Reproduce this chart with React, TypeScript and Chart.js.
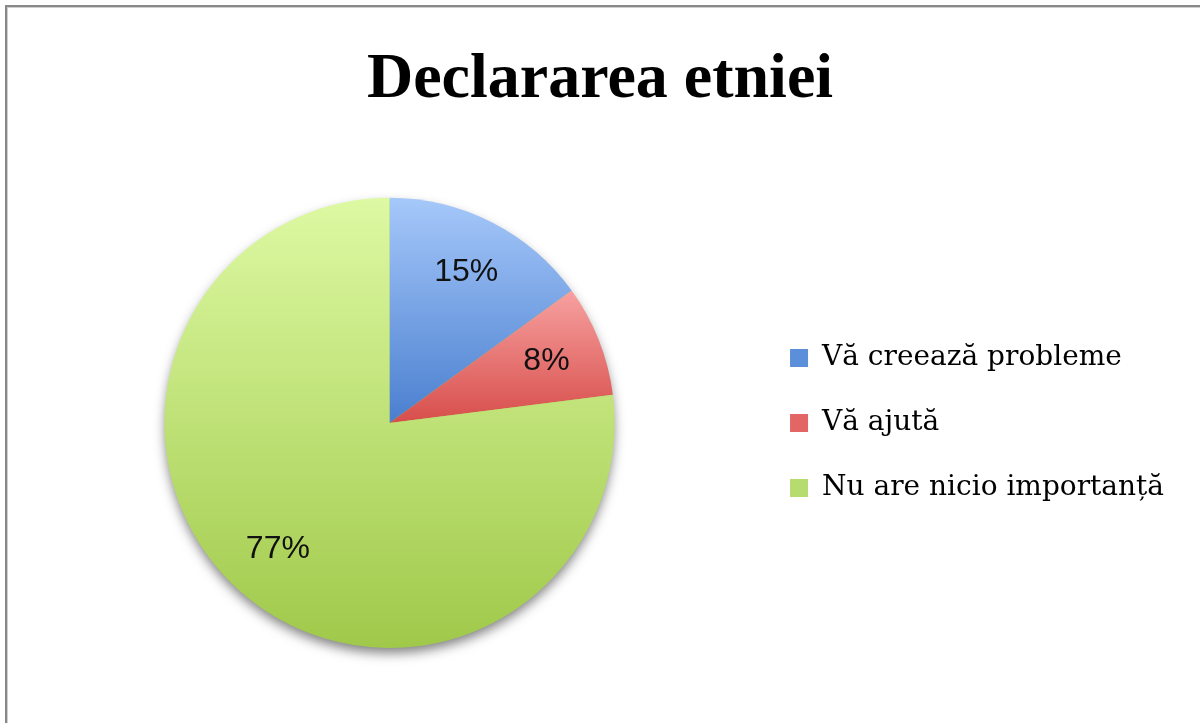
import React, { useEffect, useRef } from "react";
import { Chart, registerables } from "chart.js";

Chart.register(...registerables);

const categories = ["Vă creează probleme", "Vă ajută", "Nu are nicio importanță"];
const values = [15, 8, 77];
const titleText = "Declararea etniei";

const topColors = ["#a6c8fa", "#f7a1a0", "#ddf9a3"];
const bottomColors = ["#4a7fcf", "#d74e4b", "#a0c94a"];
const legendColors = ["#5b8fda", "#e26665", "#b6db6e"];

function sliceGradient(sc: any) {
  const chart = sc.chart;
  const area = chart.chartArea;
  const i = sc.dataIndex;
  if (!area || i === undefined) return topColors[i || 0];
  const total = values.reduce((a, b) => a + b, 0);
  let before = 0;
  for (let k = 0; k < i; k++) before += values[k];
  const a0 = (before / total) * 2 * Math.PI;
  const a1 = ((before + values[i]) / total) * 2 * Math.PI;
  const cy = (area.top + area.bottom) / 2;
  const r = Math.min(area.right - area.left, area.bottom - area.top) / 2;
  const ys = [cy, cy - r * Math.cos(a0), cy - r * Math.cos(a1)];
  if (a0 <= 1e-9 || a1 >= 2 * Math.PI - 1e-9) ys.push(cy - r);
  if (a0 < Math.PI && a1 > Math.PI) ys.push(cy + r);
  const y0 = Math.min(...ys);
  const y1 = Math.max(...ys);
  const g = chart.ctx.createLinearGradient(0, y0, 0, y1);
  g.addColorStop(0, topColors[i]);
  g.addColorStop(1, bottomColors[i]);
  return g;
}

const shadowPlugin = {
  id: "pieShadow",
  beforeDatasetsDraw(chart: any) {
    const meta = chart.getDatasetMeta(0);
    const el = meta.data[0];
    if (!el) return;
    const ctx = chart.ctx;
    ctx.save();
    ctx.shadowColor = "rgba(0,0,0,0.5)";
    ctx.shadowBlur = 12;
    ctx.shadowOffsetY = 6;
    ctx.beginPath();
    ctx.arc(el.x, el.y, el.outerRadius - 1, 0, Math.PI * 2);
    ctx.fillStyle = "#a8cc55";
    ctx.fill();
    ctx.restore();
  },
};

const labelPlugin = {
  id: "sliceLabels",
  afterDatasetsDraw(chart: any) {
    const meta = chart.getDatasetMeta(0);
    const ctx = chart.ctx;
    const total = values.reduce((a, b) => a + b, 0);
    ctx.save();
    ctx.font = "32px 'Liberation Sans', sans-serif";
    ctx.fillStyle = "#111";
    ctx.textAlign = "center";
    ctx.textBaseline = "middle";
    meta.data.forEach((el: any, i: number) => {
      const mid = (el.startAngle + el.endAngle) / 2;
      const rr = el.outerRadius * 0.75;
      const x = el.x + Math.cos(mid) * rr;
      const y = el.y + Math.sin(mid) * rr;
      ctx.fillText(Math.round((values[i] / total) * 100) + "%", x, y);
    });
    ctx.restore();
  },
};

export default function App() {
  const ref = useRef<HTMLCanvasElement | null>(null);

  useEffect(() => {
    if (!ref.current) return;
    const chart = new Chart(ref.current, {
      type: "pie",
      data: {
        labels: categories,
        datasets: [
          {
            data: values,
            backgroundColor: (sc: any) => sliceGradient(sc),
            borderWidth: 0,
            hoverOffset: 0,
          },
        ],
      },
      options: {
        animation: false,
        responsive: false,
        devicePixelRatio: 1,
        events: [],
        layout: { padding: { left: 26, right: 26, top: 0, bottom: 75 } },
        plugins: {
          tooltip: { enabled: false },
          title: {
            display: true,
            text: titleText,
            color: "#000",
            font: { family: "'Liberation Serif', serif", size: 64, weight: "bold" },
            padding: { top: 42, bottom: 79 },
          },
          legend: {
            position: "right",
            align: "center",
            fullSize: false,
            labels: {
              color: "#111",
              font: { family: "'DejaVu Serif', serif", size: 28 },
              boxWidth: 18,
              boxHeight: 18,
              padding: 37,
              generateLabels: (ch: any) =>
                categories.map((c, i) => ({
                  text: c,
                  fillStyle: legendColors[i],
                  strokeStyle: legendColors[i],
                  lineWidth: 0,
                  hidden: false,
                  index: i,
                  datasetIndex: 0,
                })),
            },
          },
        },
      },
      plugins: [shadowPlugin, labelPlugin],
    } as any);
    return () => chart.destroy();
  }, []);

  return (
    <div
      style={{
        position: "fixed",
        left: 0,
        top: 0,
        width: 1200,
        height: 723,
        background: "#fff",
        overflow: "hidden",
      }}
    >
      <div
        style={{
          position: "absolute",
          left: 5,
          top: 5,
          width: 1400,
          height: 1000,
          borderLeft: "2px solid #888",
          borderTop: "2px solid #888",
          boxShadow: "inset 1px 1px 0 #cfcfcf",
        }}
      />
      <canvas
        ref={ref}
        width={1200}
        height={723}
        style={{ position: "absolute", left: 0, top: 0, width: 1200, height: 723 }}
      />
    </div>
  );
}
